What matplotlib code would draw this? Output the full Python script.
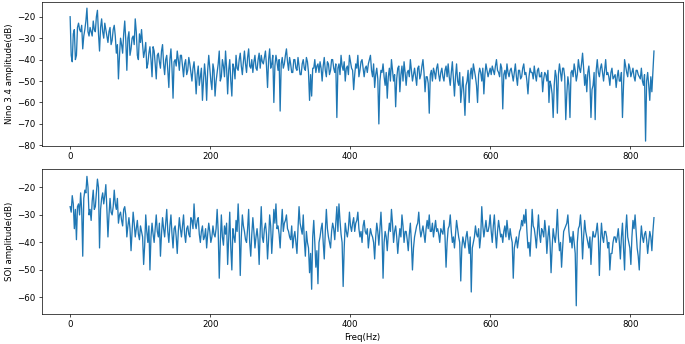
import numpy as np
from matplotlib import pyplot as plt

# amplitudes, one value every 3 Hz (0 .. 834 Hz)
nino_db = [
    -20, -41, -26, -38, -23, -27, -35, -26, -16, -29,
    -27, -22, -27, -17, -36, -21, -30, -26, -32, -25,
    -31, -24, -37, -49, -30, -37, -22, -45, -27, -35,
    -29, -21, -38, -28, -26, -39, -32, -42, -34, -48,
    -36, -49, -37, -44, -33, -47, -38, -53, -35, -58,
    -40, -36, -45, -38, -48, -40, -45, -42, -50, -41,
    -56, -43, -48, -59, -42, -59, -38, -50, -42, -57,
    -46, -36, -48, -43, -36, -56, -40, -57, -44, -38,
    -45, -37, -47, -36, -46, -35, -44, -46, -38, -45,
    -37, -38, -42, -36, -53, -35, -42, -60, -38, -45,
    -64, -39, -42, -35, -45, -42, -46, -40, -45, -43,
    -47, -40, -45, -41, -59, -57, -44, -46, -42, -41,
    -50, -39, -48, -42, -45, -40, -46, -67, -42, -38,
    -45, -50, -43, -38, -44, -54, -42, -38, -45, -40,
    -48, -43, -42, -38, -48, -53, -44, -70, -45, -42,
    -52, -58, -44, -40, -50, -62, -44, -55, -43, -41,
    -52, -45, -40, -50, -44, -52, -43, -47, -40, -55,
    -48, -65, -45, -44, -49, -42, -50, -44, -50, -43,
    -42, -52, -41, -57, -42, -52, -60, -48, -66, -50,
    -60, -44, -42, -48, -60, -44, -50, -56, -42, -48,
    -44, -43, -47, -40, -46, -42, -63, -45, -42, -48,
    -44, -50, -42, -52, -45, -48, -42, -46, -56, -44,
    -46, -43, -50, -44, -48, -55, -46, -50, -60, -52,
    -67, -45, -65, -42, -50, -44, -68, -48, -67, -45,
    -42, -50, -40, -46, -37, -52, -55, -43, -67, -52,
    -68, -40, -48, -42, -50, -40, -46, -52, -44, -48,
    -53, -45, -50, -67, -40, -46, -42, -48, -44, -50,
    -45, -48, -44, -52, -78, -46, -59, -55, -36,
]

# in-between values, at 1.5, 4.5, ... 832.5 Hz
nino_db_mid = [
    -38, -28, -40, -25, -26, -24, -29, -22, -27, -25,
    -29, -26, -20, -28, -25, -27, -23, -29, -27, -33,
    -26, -29, -33, -38, -33, -28, -31, -30, -38, -30,
    -33, -27, -40, -32, -33, -36, -44, -37, -40, -34,
    -42, -38, -41, -36, -42, -40, -45, -40, -44, -41,
    -43, -40, -38, -43, -42, -47, -39, -46, -44, -47,
    -47, -52, -44, -50, -48, -45, -44, -54, -45, -50,
    -42, -50, -40, -48, -44, -45, -50, -42, -49, -44,
    -40, -43, -41, -42, -39, -43, -40, -41, -44, -40,
    -44, -41, -39, -43, -40, -44, -38, -43, -41, -40,
    -42, -44, -38, -41, -39, -46, -40, -44, -39, -47,
    -42, -44, -39, -46, -47, -44, -40, -43, -46, -44,
    -43, -45, -41, -47, -40, -44, -42, -44, -47, -43,
    -41, -44, -47, -41, -45, -47, -44, -48, -41, -44,
    -44, -46, -40, -45, -42, -47, -49, -50, -46, -48,
    -46, -48, -50, -45, -47, -49, -43, -47, -50, -46,
    -46, -48, -45, -47, -48, -44, -49, -43, -46, -48,
    -51, -47, -50, -46, -44, -47, -46, -48, -45, -48,
    -48, -46, -49, -48, -50, -46, -54, -56, -52, -45,
    -47, -49, -45, -52, -47, -46, -44, -47, -45, -46,
    -47, -45, -43, -45, -48, -44, -47, -49, -46, -45,
    -47, -46, -48, -45, -49, -44, -47, -50, -48, -46,
    -49, -47, -45, -48, -46, -49, -47, -45, -50, -56,
    -52, -48, -47, -46, -44, -48, -56, -52, -46, -48,
    -45, -47, -44, -42, -44, -47, -46, -50, -54, -46,
    -45, -46, -44, -46, -45, -47, -48, -46, -49, -47,
    -48, -50, -46, -52, -43, -48, -44, -46, -48, -45,
    -47, -49, -50, -47, -50, -52, -48, -45,
]

soi_db = [
    -27, -23, -35, -39, -26, -22, -45, -21, -16, -30,
    -32, -21, -27, -17, -42, -24, -26, -19, -38, -24,
    -30, -21, -28, -33, -29, -34, -27, -38, -31, -43,
    -29, -38, -32, -39, -36, -48, -30, -40, -50, -33,
    -40, -30, -38, -45, -31, -38, -28, -40, -30, -42,
    -34, -44, -31, -38, -30, -40, -34, -38, -32, -26,
    -35, -31, -40, -34, -38, -42, -33, -40, -34, -38,
    -28, -53, -30, -41, -37, -48, -29, -50, -38, -32,
    -26, -52, -30, -36, -40, -28, -45, -31, -42, -35,
    -48, -27, -40, -33, -46, -30, -44, -28, -26, -34,
    -42, -28, -33, -30, -36, -39, -42, -36, -44, -27,
    -35, -30, -45, -40, -51, -57, -32, -49, -55, -38,
    -33, -46, -28, -38, -42, -33, -39, -27, -26, -37,
    -56, -33, -38, -29, -36, -31, -33, -29, -38, -40,
    -32, -37, -42, -35, -38, -46, -33, -41, -29, -53,
    -36, -43, -33, -28, -40, -34, -44, -35, -30, -40,
    -36, -43, -33, -50, -38, -34, -29, -38, -34, -40,
    -32, -30, -36, -38, -32, -35, -40, -36, -32, -49,
    -35, -30, -40, -42, -32, -38, -54, -38, -42, -36,
    -44, -58, -40, -34, -38, -42, -27, -38, -32, -36,
    -30, -40, -30, -42, -32, -38, -40, -34, -32, -39,
    -38, -53, -40, -42, -36, -32, -30, -28, -42, -45,
    -28, -35, -42, -30, -40, -36, -32, -44, -34, -51,
    -35, -40, -28, -43, -49, -36, -34, -30, -40, -42,
    -40, -63, -35, -30, -46, -32, -38, -42, -48, -36,
    -38, -33, -52, -33, -40, -36, -42, -50, -44, -38,
    -40, -35, -46, -33, -50, -30, -40, -48, -32, -30,
    -42, -50, -34, -40, -36, -44, -36, -43, -31,
]

soi_db_mid = [
    -29, -26, -28, -27, -30, -28, -24, -22, -20, -28,
    -25, -28, -22, -20, -28, -22, -23, -28, -30, -29,
    -27, -26, -24, -30, -32, -28, -30, -34, -35, -36,
    -33, -35, -37, -34, -38, -41, -36, -34, -38, -37,
    -35, -36, -33, -37, -35, -33, -36, -34, -37, -35,
    -38, -36, -35, -34, -37, -35, -37, -31, -35, -33,
    -32, -37, -36, -39, -35, -37, -36, -38, -37, -35,
    -36, -40, -38, -34, -33, -38, -42, -35, -40, -36,
    -35, -38, -34, -39, -35, -40, -37, -36, -38, -39,
    -36, -38, -35, -37, -39, -34, -37, -33, -35, -37,
    -34, -36, -32, -35, -38, -34, -38, -40, -35, -33,
    -37, -39, -36, -42, -44, -38, -40, -43, -40, -35,
    -40, -36, -35, -40, -36, -35, -33, -36, -32, -40,
    -42, -36, -35, -34, -33, -36, -32, -35, -36, -34,
    -36, -35, -38, -37, -40, -38, -36, -35, -37, -40,
    -38, -37, -36, -33, -36, -38, -39, -38, -34, -36,
    -39, -37, -40, -42, -36, -33, -35, -36, -37, -35,
    -35, -36, -33, -35, -36, -37, -35, -37, -38, -40,
    -34, -36, -38, -37, -35, -40, -42, -40, -38, -40,
    -38, -42, -38, -37, -35, -38, -34, -35, -36, -34,
    -36, -34, -37, -36, -35, -37, -36, -38, -36, -35,
    -40, -42, -38, -39, -35, -34, -33, -36, -40, -37,
    -34, -38, -36, -37, -35, -38, -36, -38, -40, -42,
    -38, -36, -38, -40, -42, -35, -33, -36, -38, -36,
    -44, -40, -34, -36, -38, -36, -40, -38, -40, -38,
    -36, -38, -40, -38, -36, -38, -40, -44, -40, -38,
    -38, -40, -38, -42, -36, -38, -42, -38, -35, -36,
    -45, -40, -38, -37, -39, -40, -38, -36,
]


def merge(grid, mid):
    out = np.empty(len(grid) + len(mid))
    out[0::2] = grid
    out[1::2] = mid
    return out


nino = merge(nino_db, nino_db_mid)
soi = merge(soi_db, soi_db_mid)
freq = np.arange(len(nino)) * 1.5

fig, (ax1, ax2) = plt.subplots(2, 1, figsize=(10.96, 5.504), dpi=62.5)
fig.subplots_adjust(left=0.061, right=0.9966, bottom=0.0872, top=0.995, hspace=0.161)

ax1.plot(freq, nino)
ax1.set_ylabel('Nino 3.4 amplitude(dB)')
ax1.set_xlim(-40.5, 875)
ax1.set_ylim(-80.4, -13)
ax1.set_yticks([-80, -70, -60, -50, -40, -30, -20])

ax2.plot(freq, soi)
ax2.set_ylabel('SOI amplitude(dB)')
ax2.set_xlabel('Freq(Hz)')
ax2.set_xlim(-40.5, 875)
ax2.set_ylim(-66, -13.5)
ax2.set_yticks([-60, -50, -40, -30, -20])

for ax in (ax1, ax2):
    ax.set_xticks([0, 200, 400, 600, 800])

fig.savefig('out.png', dpi=62.5)
